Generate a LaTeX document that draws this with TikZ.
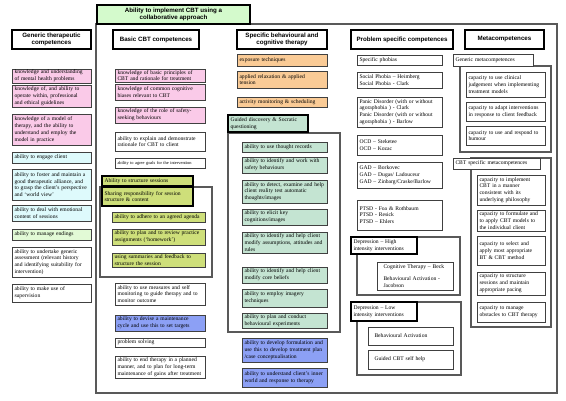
\documentclass[tikz,border=0pt]{standalone}
\usepackage{fontspec}
\setmainfont{Liberation Serif}
\newfontfamily\headfont{Liberation Sans}

\definecolor{pinkfill}{RGB}{250,202,232}
\definecolor{cyanfill}{RGB}{222,250,252}
\definecolor{leaffill}{RGB}{226,250,214}
\definecolor{orangefill}{RGB}{250,203,150}
\definecolor{mintfill}{RGB}{196,228,210}
\definecolor{limefill}{RGB}{206,223,122}
\definecolor{bluefill}{RGB}{140,160,245}
\definecolor{titlefill}{RGB}{212,250,204}

\begin{document}
\begin{tikzpicture}[x=1pt, y=-1pt,
    cbox/.style={draw=black!75, line width=0.8pt, fill=white, align=left,
        inner xsep=2.5pt, inner ysep=0pt,
        font=\fontsize{5.6}{6.8}\selectfont, text width=#1},
    grouphead/.style={cbox=#1, draw=black, line width=1.3pt},
    head/.style={draw=black, line width=1.2pt, fill=white, align=center, inner sep=0pt,
        font=\headfont\bfseries\fontsize{6.2}{7.6}\selectfont, minimum height=19pt},
    frame/.style={draw=black!65, line width=1.6pt}]
    \useasboundingbox (0,0) rectangle (566,400);

    % Outer frame and title
    \draw[frame] (96,24) rectangle (557,393);
    \node[head, fill=titlefill, minimum width=153pt] (title) at (173.5,14.5)
        {Ability to implement CBT using a\\collaborative approach};

    % Group frames
    \draw[frame] (100,187) rectangle (212,277);
    \draw[frame] (228,133) rectangle (340,332);
    \draw[frame] (357,237) rectangle (460,295);
    \draw[frame] (357,302) rectangle (461,375);
    \draw[frame] (460,66) rectangle (551,152);
    \draw[frame] (471,158) rectangle (551,327);

    % Column headers
    \node[head, minimum width=79pt] (hgen) at (51.5,39.5) {Generic therapeutic\\competences};
    \node[head, minimum width=86pt] (hbas) at (156,39.5) {Basic CBT competences};
    \node[head, minimum width=90pt] (hspc) at (282,39.5) {Specific behavioural and\\cognitive therapy};
    \node[head, minimum width=102pt] (hpro) at (402,39.5) {Problem specific competences};
    \node[head, minimum width=79pt] (hmet) at (504.5,39.5) {Metacompetences};

    % Generic therapeutic competences
    \node[cbox=74pt, fill=pinkfill, minimum height=14pt] (gen1) at (51.5,76)
        {knowledge and understanding\\of mental health problems};
    \node[cbox=74pt, fill=pinkfill, minimum height=22pt] (gen2) at (51.5,96)
        {knowledge of, and ability to\\operate within, professional\\and ethical guidelines};
    \node[cbox=74pt, fill=pinkfill, minimum height=31pt] (gen3) at (51.5,129.5)
        {knowledge of a model of\\therapy, and the ability to\\understand and employ the\\model  in practice};
    \node[cbox=74pt, fill=cyanfill, minimum height=11pt] (gen4) at (51.5,157.5)
        {ability to engage client};
    \node[cbox=74pt, fill=cyanfill, minimum height=31pt] (gen5) at (51.5,184.5)
        {ability to foster and maintain a\\good therapeutic alliance, and\\to grasp the client's perspective\\and `world view'};
    \node[cbox=74pt, fill=cyanfill, minimum height=16pt] (gen6) at (51.5,213)
        {ability to deal with emotional\\content of sessions};
    \node[cbox=74pt, fill=leaffill, minimum height=11pt] (gen7) at (51.5,234.5)
        {ability to manage endings};
    \node[cbox=74pt, minimum height=30pt] (gen8) at (51.5,262)
        {ability to undertake generic\\assessment (relevant history\\and identifying suitability for\\intervention)};
    \node[cbox=74pt, minimum height=18pt] (gen9) at (51.5,293)
        {ability to make use of\\supervision};

    % Basic CBT competences
    \node[cbox=85pt, fill=pinkfill, minimum height=13pt] (bas1) at (160,75.5)
        {knowledge of basic principles of\\CBT and rationale for treatment};
    \node[cbox=85pt, fill=pinkfill, minimum height=16pt] (bas2) at (160,92)
        {knowledge of common  cognitive\\biases relevant to CBT};
    \node[cbox=85pt, fill=pinkfill, minimum height=16pt] (bas3) at (160,115)
        {knowledge of the role of safety-\\seeking behaviours};
    \node[cbox=85pt, minimum height=19pt] (bas4) at (160,141.5)
        {ability to explain and demonstrate\\rationale for CBT to client};
    \node[cbox=85pt, minimum height=10pt, font=\fontsize{4.4}{5.4}\selectfont] (bas5) at (160,163)
        {ability to agree goals for the intervention};

    % Structuring sessions
    \node[grouphead=86pt, fill=limefill, minimum height=10pt] (str0) at (147.5,181)
        {Ability to structure sessions};
    \node[grouphead=86pt, fill=limefill, minimum height=19pt] (str1) at (147.5,196.5)
        {Sharing responsibility for session\\structure \& content};
    \node[cbox=88pt, fill=limefill, minimum height=10pt] (str2) at (158.5,217)
        {ability to adhere to an agreed agenda};
    \node[cbox=88pt, fill=limefill, minimum height=16pt] (str3) at (158.5,237)
        {ability to plan and to review practice\\assignments (`homework')};
    \node[cbox=88pt, fill=limefill, minimum height=14pt] (str4) at (158.5,260)
        {using summaries and feedback to\\structure the session};

    \node[cbox=85pt, minimum height=22pt] (bas6) at (160,294)
        {ability to use measures and self\\monitoring to guide therapy and to\\monitor outcome};
    \node[cbox=85pt, fill=bluefill, minimum height=16pt] (bas7) at (160,323)
        {ability to devise a maintenance\\cycle and use this to set  targets};
    \node[cbox=85pt, minimum height=9pt] (bas8) at (160,342.5)
        {problem solving};
    \node[cbox=85pt, minimum height=22pt] (bas9) at (160,367)
        {ability to end therapy in a planned\\manner, and to  plan for long-term\\maintenance of gains after treatment};

    % Specific behavioural and cognitive therapy
    \node[cbox=85pt, fill=orangefill, minimum height=12pt] (spc1) at (282,60)
        {exposure techniques};
    \node[cbox=85pt, fill=orangefill, minimum height=17pt] (spc2) at (282,79.5)
        {applied relaxation \& applied\\tension};
    \node[cbox=85pt, fill=orangefill, minimum height=10pt] (spc3) at (282,102)
        {activity monitoring \& scheduling};

    % Guided discovery
    \node[grouphead=75pt, fill=mintfill, minimum height=17pt] (gd0) at (268,123.5)
        {Guided discovery \& Socratic\\questioning};
    \node[cbox=80pt, fill=mintfill, minimum height=10pt] (gd1) at (284.5,147)
        {ability to use thought records};
    \node[cbox=80pt, fill=mintfill, minimum height=16pt] (gd2) at (284.5,165)
        {ability to identify and work  with\\safety behaviours};
    \node[cbox=80pt, fill=mintfill, minimum height=23pt] (gd3) at (284.5,191.5)
        {ability to detect, examine and help\\client reality test automatic\\thoughts/images};
    \node[cbox=80pt, fill=mintfill, minimum height=16pt] (gd4) at (284.5,217)
        {ability to elicit key\\cognitions/images};
    \node[cbox=80pt, fill=mintfill, minimum height=21pt] (gd5) at (284.5,242.5)
        {ability to identify and help client\\modify assumptions, attitudes and\\rules};
    \node[cbox=80pt, fill=mintfill, minimum height=16pt] (gd6) at (284.5,275)
        {ability to identify and help client\\modify core beliefs};
    \node[cbox=80pt, fill=mintfill, minimum height=18pt] (gd7) at (284.5,298)
        {ability to employ imagery\\techniques};
    \node[cbox=80pt, fill=mintfill, minimum height=15pt] (gd8) at (284.5,320.5)
        {ability to plan and conduct\\behavioural experiments};

    \node[cbox=80pt, fill=bluefill, minimum height=24pt] (spc4) at (284.5,350)
        {ability to develop formulation and\\use this to develop treatment plan\\/case conceptualisation};
    \node[cbox=80pt, fill=bluefill, minimum height=19pt] (spc5) at (284.5,377.5)
        {ability to understand client's inner\\world and response to therapy};

    % Problem specific competences
    \node[cbox=80pt, minimum height=10pt] (pro1) at (399.5,60) {Specific phobias};
    \node[cbox=80pt, minimum height=16pt] (pro2) at (399.5,80)
        {Social Phobia -- Heimberg\\Social Phobia - Clark};
    \node[cbox=80pt, minimum height=30pt] (pro3) at (399.5,112)
        {Panic Disorder (with or without\\agoraphobia ) - Clark\\Panic Disorder (with or without\\agoraphobia ) - Barlow};
    \node[cbox=80pt, minimum height=20pt] (pro4) at (399.5,145)
        {OCD -- Steketee\\OCD -- Kozac};
    \node[cbox=80pt, minimum height=26pt] (pro5) at (399.5,175)
        {GAD -- Borkovec\\GAD -- Dugas/ Ladouceur\\GAD -- Zinbarg/Craske/Barlow};
    \node[cbox=80pt, minimum height=30pt] (pro6) at (399.5,215)
        {PTSD - Foa \& Rothbaum\\PTSD - Resick\\PTSD -- Ehlers};

    % Depression
    \node[grouphead=61pt, minimum height=17pt] (dhi0) at (384,245.5)
        {Depression -- High\\intensity interventions};
    \node[cbox=71pt, minimum height=28pt] (dhi1) at (415,276)
        {\hspace{4pt}Cognitive Therapy  -- Beck\\[6pt]\hspace{4pt}Behavioural Activation -\\\hspace{4pt}Jacobson};
    \node[grouphead=61pt, minimum height=19pt] (dlo0) at (384,311.5)
        {Depression -- Low\\intensity interventions};
    \node[cbox=80pt, minimum height=18pt] (dlo1) at (410.5,336)
        {\hspace{4pt}Behavioural Activation};
    \node[cbox=80pt, minimum height=19pt] (dlo2) at (410.5,359.5)
        {\hspace{4pt}Guided CBT self help};

    % Metacompetences
    \node[cbox=75pt, minimum height=12pt] (mg0) at (493,60) {Generic metacompetences};
    \node[cbox=74pt, minimum height=25pt] (mg1) at (505.5,84.5)
        {capacity to use  clinical\\judgement when  implementing\\treatment models};
    \node[cbox=74pt, minimum height=19pt] (mg2) at (505.5,111.5)
        {capacity to adapt interventions\\in response to client feedback};
    \node[cbox=74pt, minimum height=19pt] (mg3) at (505.5,135.5)
        {capacity to use and  respond to\\humour};

    \node[cbox=82pt, minimum height=11pt] (mc0) at (496.5,163.5) {CBT specific metacompetences};
    \node[cbox=63pt, minimum height=30pt] (mc1) at (511,190)
        {capacity to implement\\CBT in a manner\\consistent with its\\underlying philosophy};
    \node[cbox=63pt, minimum height=21pt] (mc2) at (511,220.5)
        {capacity to formulate and\\to apply CBT models to\\the individual client};
    \node[cbox=63pt, minimum height=29pt] (mc3) at (511,250.5)
        {capacity to select and\\apply most appropriate\\BT \& CBT method};
    \node[cbox=63pt, minimum height=23pt] (mc4) at (511,283.5)
        {capacity to structure\\sessions and maintain\\appropriate pacing};
    \node[cbox=63pt, minimum height=20pt] (mc5) at (511,312)
        {capacity to  manage\\obstacles to CBT therapy};
\end{tikzpicture}
\end{document}
